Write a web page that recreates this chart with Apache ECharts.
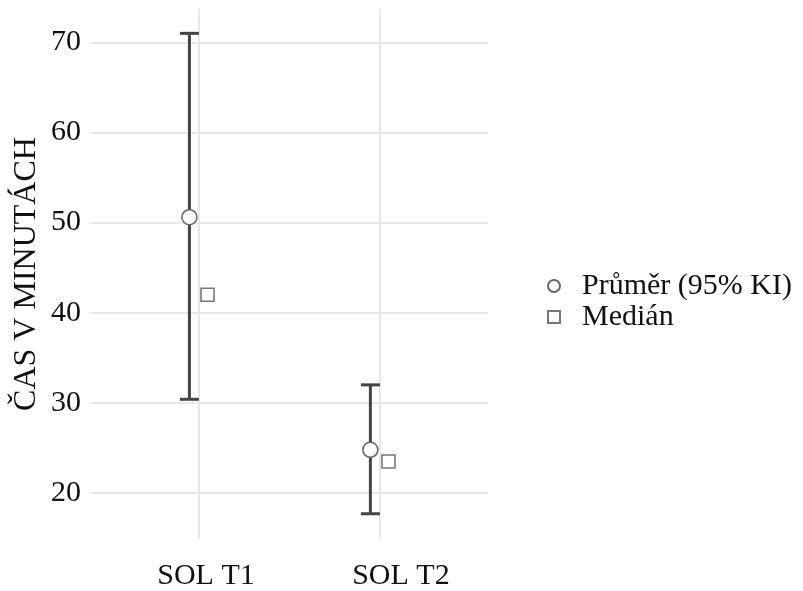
<!DOCTYPE html>
<html>
<head>
<meta charset="utf-8">
<script src="https://cdn.jsdelivr.net/npm/echarts@6/dist/echarts.min.js"></script>
<style>html,body{margin:0;padding:0;background:#fff}#c{width:803px;height:591px}</style>
</head>
<body>
<div id="c"></div>
<script>
const categories = ['SOL T1', 'SOL T2'];
const meanValues = [50.6, 24.8];
const ciLower = [30.4, 17.7];
const ciUpper = [71.0, 32.0];
const medianValues = [42.0, 23.5];
const yTicks = [20, 30, 40, 50, 60, 70];
const seriesNames = ['Průměr (95% KI)', 'Medián'];

const DODGE = 0.05;
const FONT = '"Liberation Serif", "Times New Roman", serif';
const catPos = categories.map((c, i) => i + 1);

const chart = echarts.init(document.getElementById('c'), null, {renderer: 'canvas'});
chart.setOption({
  animation: false,
  backgroundColor: '#fff',
  grid: {left: 86, right: 315, top: 9, bottom: 45, containLabel: false},
  xAxis: {
    type: 'value', min: 0.4, max: 2.6,
    axisLine: {show: false},
    axisTick: {show: false, customValues: catPos},
    splitLine: {show: true, lineStyle: {color: '#e8e8e8', width: 2}},
    axisLabel: {
      customValues: catPos,
      margin: 22,
      formatter: v => {
        const i = Math.round(v) - 1;
        return '{l' + i + '|' + categories[i] + '}';
      },
      rich: {
        l0: {fontFamily: FONT, fontSize: 30, color: '#111', padding: [0, 0, 0, 15]},
        l1: {fontFamily: FONT, fontSize: 30, color: '#111', padding: [0, 0, 0, 43]}
      }
    }
  },
  yAxis: {
    type: 'value', min: 14.9, max: 73.7,
    name: 'ČAS V MINUTÁCH', nameLocation: 'middle', nameRotate: 90, nameGap: 47,
    nameTextStyle: {fontFamily: FONT, fontSize: 32, color: '#111'},
    axisLine: {show: false},
    axisTick: {show: false, customValues: yTicks},
    splitLine: {show: true, lineStyle: {color: '#e8e8e8', width: 2}},
    axisLabel: {customValues: yTicks, fontFamily: FONT, fontSize: 30, color: '#111', margin: 9}
  },
  legend: {
    orient: 'vertical', left: 542, top: 266,
    data: seriesNames,
    itemWidth: 12, itemHeight: 12, itemGap: 1,
    textStyle: {fontFamily: FONT, fontSize: 30, color: '#111', lineHeight: 30, padding: [0, 0, 0, 17]}
  },
  series: [
    {
      type: 'custom', name: 'ci', silent: true, z: 2,
      data: catPos.map((x, i) => [x - DODGE, ciLower[i], ciUpper[i]]),
      renderItem: (params, api) => {
        const lo = api.coord([api.value(0), api.value(1)]);
        const hi = api.coord([api.value(0), api.value(2)]);
        const hw = 9.5;
        const st = {stroke: '#444', lineWidth: 3, fill: null};
        return {type: 'group', children: [
          {type: 'line', shape: {x1: lo[0], y1: lo[1], x2: hi[0], y2: hi[1]}, style: st},
          {type: 'line', shape: {x1: lo[0]-hw, y1: lo[1], x2: lo[0]+hw, y2: lo[1]}, style: st},
          {type: 'line', shape: {x1: hi[0]-hw, y1: hi[1], x2: hi[0]+hw, y2: hi[1]}, style: st}
        ]};
      }
    },
    {
      type: 'scatter', name: seriesNames[0], z: 3,
      symbol: 'circle', symbolSize: 15,
      itemStyle: {color: '#fff', borderColor: '#666', borderWidth: 1.6, opacity: 1},
      data: catPos.map((x, i) => [x - DODGE, meanValues[i]])
    },
    {
      type: 'scatter', name: seriesNames[1], z: 3,
      symbol: 'rect', symbolSize: 13,
      itemStyle: {color: '#fff', borderColor: '#777', borderWidth: 1.6, opacity: 1},
      data: catPos.map((x, i) => [x + DODGE, medianValues[i]])
    }
  ]
});
</script>
</body>
</html>
